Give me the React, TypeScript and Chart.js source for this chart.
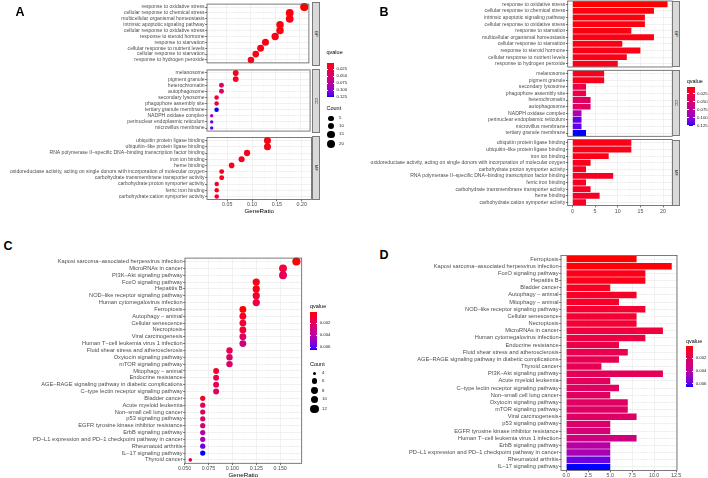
import React, { useEffect, useRef } from "react";
import { Chart, registerables } from "chart.js";

Chart.register(...registerables);

const FONT = '"Liberation Sans", Arial, Helvetica, sans-serif';

// ================= DATA =================
// ---- Panel A: GO dot plot ----
const aBpTerms = [
  "response to oxidative stress",
  "cellular response to chemical stress",
  "multicellular organismal homeostasis",
  "intrinsic apoptotic signaling pathway",
  "cellular response to oxidative stress",
  "response to steroid hormone",
  "response to starvation",
  "cellular response to nutrient levels",
  "cellular response to starvation",
  "response to hydrogen peroxide",
];
const aBpRatio = [0.21, 0.18, 0.18, 0.16, 0.16, 0.15, 0.13, 0.12, 0.11, 0.1];
const aBpCount = [21, 18, 18, 16, 16, 15, 13, 12, 11, 10];
const aBpQ = [0.005, 0.0078, 0.009, 0.008, 0.0083, 0.01, 0.0086, 0.0105, 0.0095, 0.011];

const aCcTerms = [
  "melanosome",
  "pigment granule",
  "heterochromatin",
  "autophagosome",
  "secondary lysosome",
  "phagophore assembly site",
  "tertiary granule membrane",
  "NADPH oxidase complex",
  "perinuclear endoplasmic reticulum",
  "microvillus membrane",
];
const aCcRatio = [0.068, 0.068, 0.039, 0.039, 0.029, 0.029, 0.029, 0.019, 0.019, 0.019];
const aCcCount = [7, 7, 4, 4, 3, 3, 3, 2, 2, 2];
const aCcQ = [0.012, 0.012, 0.044, 0.045, 0.029, 0.03, 0.1255, 0.085, 0.115, 0.115];

const aMfTerms = [
  "ubiquitin protein ligase binding",
  "ubiquitin–like protein ligase binding",
  "RNA polymerase II–specific DNA–binding transcription factor binding",
  "iron ion binding",
  "heme binding",
  "oxidoreductase activity, acting on single donors with incorporation of molecular oxygen",
  "carbohydrate transmembrane transporter activity",
  "carbohydrate:proton symporter activity",
  "ferric iron binding",
  "carbohydrate:cation symporter activity",
];
const aMfRatio = [0.131, 0.131, 0.09, 0.079, 0.059, 0.039, 0.039, 0.029, 0.029, 0.029];
const aMfCount = [13, 13, 9, 8, 6, 4, 4, 3, 3, 3];
const aMfQ = [0.01, 0.0102, 0.0135, 0.011, 0.015, 0.012, 0.0145, 0.013, 0.014, 0.016];

// ---- Panel B: GO bar plot ----
const bBpTerms = [
  "response to oxidative stress",
  "cellular response to chemical stress",
  "intrinsic apoptotic signaling pathway",
  "cellular response to oxidative stress",
  "response to starvation",
  "multicellular organismal homeostasis",
  "cellular response to starvation",
  "response to steroid hormone",
  "cellular response to nutrient levels",
  "response to hydrogen peroxide",
];
const bBpCount = [21, 18, 16, 16, 13, 18, 11, 15, 12, 10];
const bBpQ = [0.005, 0.0078, 0.008, 0.0083, 0.0086, 0.009, 0.0095, 0.01, 0.0105, 0.011];

const bCcTerms = [
  "melanosome",
  "pigment granule",
  "secondary lysosome",
  "phagophore assembly site",
  "heterochromatin",
  "autophagosome",
  "NADPH oxidase complex",
  "perinuclear endoplasmic reticulum",
  "microvillus membrane",
  "tertiary granule membrane",
];
const bCcCount = [7, 7, 3, 3, 4, 4, 2, 2, 2, 3];
const bCcQ = [0.012, 0.012, 0.029, 0.03, 0.044, 0.045, 0.085, 0.115, 0.115, 0.1255];

const bMfTerms = [
  "ubiquitin protein ligase binding",
  "ubiquitin–like protein ligase binding",
  "iron ion binding",
  "oxidoreductase activity, acting on single donors with incorporation of molecular oxygen",
  "carbohydrate:proton symporter activity",
  "RNA polymerase II–specific DNA–binding transcription factor binding",
  "ferric iron binding",
  "carbohydrate transmembrane transporter activity",
  "heme binding",
  "carbohydrate:cation symporter activity",
];
const bMfCount = [13, 13, 8, 4, 3, 9, 3, 4, 6, 3];
const bMfQ = [0.01, 0.0102, 0.011, 0.012, 0.013, 0.0135, 0.014, 0.0145, 0.015, 0.016];

// ---- Panel C: KEGG dot plot ----
const cTerms = [
  "Kaposi sarcoma–associated herpesvirus infection",
  "MicroRNAs in cancer",
  "PI3K–Akt signaling pathway",
  "FoxO signaling pathway",
  "Hepatitis B",
  "NOD–like receptor signaling pathway",
  "Human cytomegalovirus infection",
  "Ferroptosis",
  "Autophagy – animal",
  "Cellular senescence",
  "Necroptosis",
  "Viral carcinogenesis",
  "Human T–cell leukemia virus 1 infection",
  "Fluid shear stress and atherosclerosis",
  "Oxytocin signaling pathway",
  "mTOR signaling pathway",
  "Mitophagy – animal",
  "Endocrine resistance",
  "AGE–RAGE signaling pathway in diabetic complications",
  "C–type lectin receptor signaling pathway",
  "Bladder cancer",
  "Acute myeloid leukemia",
  "Non–small cell lung cancer",
  "p53 signaling pathway",
  "EGFR tyrosine kinase inhibitor resistance",
  "ErbB signaling pathway",
  "PD–L1 expression and PD–1 checkpoint pathway in cancer",
  "Rheumatoid arthritis",
  "IL–17 signaling pathway",
  "Thyroid cancer",
];
const cRatio = [
  0.167, 0.153, 0.153, 0.125, 0.125, 0.125, 0.125, 0.111, 0.111, 0.111, 0.111, 0.111, 0.111, 0.097, 0.097,
  0.097, 0.083, 0.083, 0.083, 0.083, 0.069, 0.069, 0.069, 0.069, 0.069, 0.069, 0.069, 0.069, 0.069, 0.056,
];
const cCount = [12, 11, 11, 9, 9, 9, 9, 8, 8, 8, 8, 8, 8, 7, 7, 7, 6, 6, 6, 6, 5, 5, 5, 5, 5, 5, 5, 5, 5, 4];
const cQ = [
  0.00008, 0.0011, 0.0019, 0.0003, 0.0003, 0.0008, 0.0013, 0.00002, 0.0006, 0.0009, 0.0009, 0.0023, 0.003,
  0.0016, 0.0022, 0.0022, 0.0007, 0.0015, 0.0017, 0.0021, 0.0005, 0.002, 0.0021, 0.0024, 0.0027, 0.004,
  0.0045, 0.0058, 0.0065, 0.0018,
];

// ---- Panel D: KEGG bar plot ----
const dTerms = [
  "Ferroptosis",
  "Kaposi sarcoma–associated herpesvirus infection",
  "FoxO signaling pathway",
  "Hepatitis B",
  "Bladder cancer",
  "Autophagy – animal",
  "Mitophagy – animal",
  "NOD–like receptor signaling pathway",
  "Cellular senescence",
  "Necroptosis",
  "MicroRNAs in cancer",
  "Human cytomegalovirus infection",
  "Endocrine resistance",
  "Fluid shear stress and atherosclerosis",
  "AGE–RAGE signaling pathway in diabetic complications",
  "Thyroid cancer",
  "PI3K–Akt signaling pathway",
  "Acute myeloid leukemia",
  "C–type lectin receptor signaling pathway",
  "Non–small cell lung cancer",
  "Oxytocin signaling pathway",
  "mTOR signaling pathway",
  "Viral carcinogenesis",
  "p53 signaling pathway",
  "EGFR tyrosine kinase inhibitor resistance",
  "Human T–cell leukemia virus 1 infection",
  "ErbB signaling pathway",
  "PD–L1 expression and PD–1 checkpoint pathway in cancer",
  "Rheumatoid arthritis",
  "IL–17 signaling pathway",
];
const dCount = [8, 12, 9, 9, 5, 8, 6, 9, 8, 8, 11, 9, 6, 7, 6, 4, 11, 5, 6, 5, 7, 7, 8, 5, 5, 8, 5, 5, 5, 5];
const dQ = [
  0.00002, 0.00008, 0.0003, 0.0003, 0.0005, 0.0006, 0.0007, 0.0008, 0.0009, 0.0009, 0.0011, 0.0013, 0.0015,
  0.0016, 0.0017, 0.0018, 0.0019, 0.002, 0.0021, 0.0021, 0.0022, 0.0022, 0.0023, 0.0024, 0.0027, 0.003,
  0.004, 0.0045, 0.0058, 0.0065,
];

// ---- tick labels ----
const aTicks = [0.05, 0.1, 0.15, 0.2];
const aTickLabels = ["0.05", "0.10", "0.15", "0.20"];
const aMinor = [0.025, 0.075, 0.125, 0.175];
const bTicks = [0, 5, 10, 15, 20];
const bTickLabels = ["0", "5", "10", "15", "20"];
const bMinor = [2.5, 7.5, 12.5, 17.5];
const cTicks = [0.05, 0.075, 0.1, 0.125, 0.15];
const cTickLabels = ["0.050", "0.075", "0.100", "0.125", "0.150"];
const cMinor = [0.0625, 0.0875, 0.1125, 0.1375, 0.1625];
const dTicks = [0, 2.5, 5, 7.5, 10, 12.5];
const dTickLabels = ["0.0", "2.5", "5.0", "7.5", "10.0", "12.5"];
const dMinor = [1.25, 3.75, 6.25, 8.75, 11.25];
const goLegendTicks = [0.025, 0.05, 0.075, 0.1, 0.125];
const goLegendLabels = ["0.025", "0.050", "0.075", "0.100", "0.125"];
const keggLegendTicks = [0.002, 0.004, 0.006];
const keggLegendLabels = ["0.002", "0.004", "0.006"];
const aCountBreaks = [5, 10, 15, 20];
const cCountBreaks = [4, 6, 8, 10, 12];

// ================= COLOUR (Lab gradient red -> blue, like ggplot) =================
function toLin(c: number) {
  c /= 255;
  return c <= 0.04045 ? c / 12.92 : Math.pow((c + 0.055) / 1.055, 2.4);
}
function fromLin(c: number) {
  const v = c <= 0.0031308 ? 12.92 * c : 1.055 * Math.pow(c, 1 / 2.4) - 0.055;
  return Math.round(Math.max(0, Math.min(1, v)) * 255);
}
function rgbToLab(rgb: number[]) {
  const [r, g, b] = rgb.map(toLin);
  const X = (0.4124 * r + 0.3576 * g + 0.1805 * b) / 0.95047;
  const Y = 0.2126 * r + 0.7152 * g + 0.0722 * b;
  const Z = (0.0193 * r + 0.1192 * g + 0.9505 * b) / 1.08883;
  const f = (t: number) => (t > 0.008856 ? Math.cbrt(t) : 7.787 * t + 16 / 116);
  const fx = f(X), fy = f(Y), fz = f(Z);
  return [116 * fy - 16, 500 * (fx - fy), 200 * (fy - fz)];
}
function labToRgb(lab: number[]) {
  const [L, a, bb] = lab;
  const fy = (L + 16) / 116;
  const fx = fy + a / 500;
  const fz = fy - bb / 200;
  const inv = (f: number) => (f * f * f > 0.008856 ? f * f * f : (f - 16 / 116) / 7.787);
  const X = inv(fx) * 0.95047, Y = inv(fy), Z = inv(fz) * 1.08883;
  const r = 3.2406 * X - 1.5372 * Y - 0.4986 * Z;
  const g = -0.9689 * X + 1.8758 * Y + 0.0415 * Z;
  const b = 0.0557 * X - 0.204 * Y + 1.057 * Z;
  return [fromLin(r), fromLin(g), fromLin(b)];
}
const LAB_LOW = rgbToLab([255, 0, 0]);
const LAB_HIGH = rgbToLab([0, 0, 255]);
function gradColor(t: number) {
  const tt = Math.max(0, Math.min(1, t));
  const lab = LAB_LOW.map((v, i) => v + (LAB_HIGH[i] - v) * tt);
  const [r, g, b] = labToRgb(lab);
  return `rgb(${r},${g},${b})`;
}

const goQAll = [...aBpQ, ...aCcQ, ...aMfQ];
const goQMin = Math.min(...goQAll);
const goQMax = Math.max(...goQAll);
const keggQMin = Math.min(...cQ);
const keggQMax = Math.max(...cQ);
const goCol = (q: number) => gradColor((q - goQMin) / (goQMax - goQMin));
const keggCol = (q: number) => gradColor((q - keggQMin) / (keggQMax - keggQMin));

const aCountAll = [...aBpCount, ...aCcCount, ...aMfCount];
const aCMin = Math.min(...aCountAll);
const aCMax = Math.max(...aCountAll);
const rA = (c: number) => 1.7 + 2.4 * Math.sqrt((c - aCMin) / (aCMax - aCMin));
const cCMin = Math.min(...cCount);
const cCMax = Math.max(...cCount);
const rC = (c: number) => 1.8 + 2.3 * Math.sqrt((c - cCMin) / (cCMax - cCMin));

function expand(lo: number, hi: number) {
  const r = hi - lo;
  return [lo - 0.05 * r, hi + 0.05 * r];
}
const aAllRatio = [...aBpRatio, ...aCcRatio, ...aMfRatio];
const [aXMin, aXMax] = expand(Math.min(...aAllRatio), Math.max(...aAllRatio));
const [bXMin, bXMax] = expand(0, Math.max(...bBpCount, ...bCcCount, ...bMfCount));
const [cXMin, cXMax] = expand(Math.min(...cRatio), Math.max(...cRatio));
const [dXMin, dXMax] = expand(0, Math.max(...dCount));

// ================= FACET CHARTS =================
type Facet = {
  kind: "dot" | "bar";
  labels: string[];
  values: number[];
  colors: string[];
  radii?: number[];
  canvasLeft: number;
  plotLeft: number;
  plotRight: number;
  top: number;
  bottom: number;
  axisBelow: number;
  xMin: number;
  xMax: number;
  major: number[];
  majorLabels: string[];
  minor: number[];
  labelSize: number;
  tickSize: number;
};

const GRID = "#EBEBEB";
const GRID_MINOR = "#F5F5F5";

const A_L = 207, A_R = 311.5;
const B_L = 567.7, B_R = 672.3;

const FACETS: Facet[] = [
  // Panel A
  {
    kind: "dot", labels: aBpTerms, values: aBpRatio, colors: aBpQ.map(goCol), radii: aBpCount.map(rA),
    canvasLeft: 0, plotLeft: A_L, plotRight: A_R, top: 1.5, bottom: 65.5, axisBelow: 0,
    xMin: aXMin, xMax: aXMax, major: aTicks, majorLabels: aTickLabels, minor: aMinor, labelSize: 5.1, tickSize: 5.3,
  },
  {
    kind: "dot", labels: aCcTerms, values: aCcRatio, colors: aCcQ.map(goCol), radii: aCcCount.map(rA),
    canvasLeft: 0, plotLeft: A_L, plotRight: A_R, top: 68.5, bottom: 132.5, axisBelow: 0,
    xMin: aXMin, xMax: aXMax, major: aTicks, majorLabels: aTickLabels, minor: aMinor, labelSize: 5.1, tickSize: 5.3,
  },
  {
    kind: "dot", labels: aMfTerms, values: aMfRatio, colors: aMfQ.map(goCol), radii: aMfCount.map(rA),
    canvasLeft: 0, plotLeft: A_L, plotRight: A_R, top: 135.5, bottom: 199.5, axisBelow: 8,
    xMin: aXMin, xMax: aXMax, major: aTicks, majorLabels: aTickLabels, minor: aMinor, labelSize: 5.1, tickSize: 5.3,
  },
  // Panel B
  {
    kind: "bar", labels: bBpTerms, values: bBpCount, colors: bBpQ.map(goCol),
    canvasLeft: 355, plotLeft: B_L, plotRight: B_R, top: 1, bottom: 67, axisBelow: 0,
    xMin: bXMin, xMax: bXMax, major: bTicks, majorLabels: bTickLabels, minor: bMinor, labelSize: 5.1, tickSize: 5.3,
  },
  {
    kind: "bar", labels: bCcTerms, values: bCcCount, colors: bCcQ.map(goCol),
    canvasLeft: 355, plotLeft: B_L, plotRight: B_R, top: 70.3, bottom: 136.3, axisBelow: 0,
    xMin: bXMin, xMax: bXMax, major: bTicks, majorLabels: bTickLabels, minor: bMinor, labelSize: 5.1, tickSize: 5.3,
  },
  {
    kind: "bar", labels: bMfTerms, values: bMfCount, colors: bMfQ.map(goCol),
    canvasLeft: 355, plotLeft: B_L, plotRight: B_R, top: 139.6, bottom: 205.6, axisBelow: 9,
    xMin: bXMin, xMax: bXMax, major: bTicks, majorLabels: bTickLabels, minor: bMinor, labelSize: 5.1, tickSize: 5.3,
  },
  // Panel C
  {
    kind: "dot", labels: cTerms, values: cRatio, colors: cQ.map(keggCol), radii: cCount.map(rC),
    canvasLeft: 0, plotLeft: 185, plotRight: 301.7, top: 255, bottom: 463.3, axisBelow: 9,
    xMin: cXMin, xMax: cXMax, major: cTicks, majorLabels: cTickLabels, minor: cMinor, labelSize: 5.7, tickSize: 5.3,
  },
  // Panel D
  {
    kind: "bar", labels: dTerms, values: dCount, colors: dQ.map(keggCol),
    canvasLeft: 400, plotLeft: 561, plotRight: 677, top: 255.5, bottom: 470.5, axisBelow: 7.5,
    xMin: dXMin, xMax: dXMax, major: dTicks, majorLabels: dTickLabels, minor: dMinor, labelSize: 5.7, tickSize: 5.3,
  },
];

const boxPlugin = {
  id: "panelBox",
  afterDraw(chart: any) {
    const { ctx, chartArea } = chart;
    ctx.save();
    ctx.strokeStyle = "#5a5a5a";
    ctx.lineWidth = 0.8;
    ctx.strokeRect(chartArea.left, chartArea.top, chartArea.right - chartArea.left, chartArea.bottom - chartArea.top);
    ctx.restore();
  },
};

function makeFacet(canvas: HTMLCanvasElement, f: Facet): Chart {
  const showX = f.axisBelow > 0;
  const extraRight = showX ? 7 : 1;
  const cl = Math.floor(f.canvasLeft);
  const ct = Math.floor(f.top) - 1;
  const cw = Math.ceil(f.plotRight) + extraRight - cl;
  const ch = Math.ceil(f.bottom + f.axisBelow) + 1 - ct;
  canvas.width = cw;
  canvas.height = ch;
  canvas.style.position = "absolute";
  canvas.style.left = cl + "px";
  canvas.style.top = ct + "px";
  canvas.style.width = cw + "px";
  canvas.style.height = ch + "px";
  const padTop = f.top - ct;
  const padRight = cw - (f.plotRight - cl);
  const yW = f.plotLeft - cl;
  const xH = ch - (f.bottom - ct);
  const majorIdx = (v: number) => f.major.findIndex((m) => Math.abs(m - v) < 1e-9);
  const isMajor = (c: any) => (c && c.tick ? majorIdx(c.tick.value) >= 0 : true);
  const allTicks = [...f.major, ...f.minor].sort((a, b) => a - b);

  const dataset: any =
    f.kind === "dot"
      ? {
          data: f.labels.map((l, i) => ({ x: f.values[i], y: l })),
          pointRadius: f.radii,
          pointHoverRadius: f.radii,
          pointBackgroundColor: f.colors,
          pointBorderWidth: 0,
          pointBorderColor: "rgba(0,0,0,0)",
          clip: false,
        }
      : {
          data: f.values,
          backgroundColor: f.colors,
          borderWidth: 0,
          barPercentage: 0.9,
          categoryPercentage: 1,
        };

  const config: any = {
    type: f.kind === "dot" ? "scatter" : "bar",
    data: f.kind === "dot" ? { datasets: [dataset] } : { labels: f.labels, datasets: [dataset] },
    options: {
      indexAxis: f.kind === "bar" ? "y" : "x",
      animation: false,
      responsive: false,
      devicePixelRatio: 1,
      events: [],
      layout: { padding: { top: padTop, right: padRight, left: 0, bottom: 0 } },
      plugins: { legend: { display: false }, tooltip: { enabled: false }, title: { display: false } },
      scales: {
        x: {
          type: "linear",
          min: f.xMin,
          max: f.xMax,
          bounds: "data",
          afterBuildTicks: (scale: any) => {
            scale.ticks = allTicks.map((v) => ({ value: v }));
          },
          afterFit: (scale: any) => {
            scale.height = xH;
            scale.paddingLeft = 0;
            scale.paddingRight = 0;
          },
          ticks: {
            display: showX,
            autoSkip: false,
            maxRotation: 0,
            minRotation: 0,
            padding: 0.5,
            color: "#4D4D4D",
            font: { family: FONT, size: f.tickSize },
            callback: (v: any) => {
              const i = majorIdx(Number(v));
              return i >= 0 ? f.majorLabels[i] : "";
            },
          },
          grid: {
            color: (c: any) => (isMajor(c) ? GRID : GRID_MINOR),
            lineWidth: (c: any) => (isMajor(c) ? 0.7 : 0.4),
            drawTicks: showX,
            tickLength: 1.8,
            tickWidth: 0.7,
            tickColor: (c: any) => (isMajor(c) ? "#333333" : "rgba(0,0,0,0)"),
          },
          border: { display: false },
        },
        y: {
          type: "category",
          labels: f.labels,
          offset: true,
          afterFit: (scale: any) => {
            scale.width = yW;
            scale.paddingTop = 0;
            scale.paddingBottom = 0;
          },
          ticks: {
            autoSkip: false,
            padding: 0.6,
            color: "#4D4D4D",
            font: { family: FONT, size: f.labelSize },
          },
          grid: {
            color: GRID,
            lineWidth: 0.7,
            offset: false,
            drawTicks: true,
            tickLength: 1.8,
            tickWidth: 0.7,
            tickColor: "#333333",
          },
          border: { display: false },
        },
      },
    },
    plugins: [boxPlugin],
  };
  return new Chart(canvas, config);
}

// ================= HTML OVERLAYS (titles, strips, legends) =================
function Txt(props: {
  x: number; y: number; size: number; children: any; anchor?: "left" | "center" | "right"; color?: string; bold?: boolean;
}) {
  const { x, y, size, children, anchor = "left", color = "#000", bold = false } = props;
  const tx = anchor === "left" ? "0" : anchor === "center" ? "-50%" : "-100%";
  return (
    <div
      style={{
        position: "absolute", left: x, top: y, transform: `translate(${tx},-50%)`, fontSize: size, lineHeight: 1,
        color, fontWeight: bold ? "bold" : "normal", whiteSpace: "nowrap",
      }}
    >
      {children}
    </div>
  );
}

function Strip(props: { x: number; y: number; w: number; h: number; text: string }) {
  const { x, y, w, h, text } = props;
  return (
    <div
      style={{
        position: "absolute", left: x, top: y, width: w, height: h, background: "#D9D9D9", boxSizing: "border-box",
        border: "1px solid #7a7a7a",
      }}
    >
      <div
        style={{
          position: "absolute", left: "50%", top: "50%", transform: "translate(-50%,-50%) rotate(90deg)", fontSize: 4,
          lineHeight: 1, color: "#1A1A1A", whiteSpace: "nowrap",
        }}
      >
        {text}
      </div>
    </div>
  );
}

function ColorBar(props: {
  x: number; y: number; w: number; h: number; qMin: number; qMax: number; ticks: number[]; labels: string[]; size: number;
}) {
  const { x, y, w, h, qMin, qMax, ticks, labels, size } = props;
  const stops = Array.from({ length: 21 }, (_, i) => `${gradColor(i / 20)} ${i * 5}%`).join(",");
  return (
    <>
      <div style={{ position: "absolute", left: x, top: y, width: w, height: h, background: `linear-gradient(to bottom, ${stops})` }} />
      {ticks.map((q, i) => {
        const ty = y + ((q - qMin) / (qMax - qMin)) * h;
        return (
          <React.Fragment key={i}>
            <div style={{ position: "absolute", left: x, top: ty - 0.4, width: w / 5, height: 0.8, background: "#fff" }} />
            <div style={{ position: "absolute", left: x + w - w / 5, top: ty - 0.4, width: w / 5, height: 0.8, background: "#fff" }} />
            <Txt x={x + w + 2.4} y={ty} size={size} color="#222">
              {labels[i]}
            </Txt>
          </React.Fragment>
        );
      })}
    </>
  );
}

function SizeLegend(props: { x: number; ys: number[]; counts: number[]; r: (c: number) => number; labelX: number; size: number }) {
  const { x, ys, counts, r, labelX, size } = props;
  return (
    <>
      {counts.map((c, i) => {
        const rr = r(c);
        return (
          <React.Fragment key={i}>
            <div
              style={{
                position: "absolute", left: x - rr, top: ys[i] - rr, width: 2 * rr, height: 2 * rr, borderRadius: "50%",
                background: "#000",
              }}
            />
            <Txt x={labelX} y={ys[i]} size={size} color="#222">
              {String(c)}
            </Txt>
          </React.Fragment>
        );
      })}
    </>
  );
}

export default function App() {
  const refs = useRef<(HTMLCanvasElement | null)[]>([]);
  useEffect(() => {
    const charts = FACETS.map((f, i) => makeFacet(refs.current[i] as HTMLCanvasElement, f));
    return () => charts.forEach((c) => c.destroy());
  }, []);

  return (
    <div
      style={{
        position: "absolute", left: 0, top: 0, width: 708, height: 478, background: "#fff", overflow: "hidden",
        fontFamily: FONT,
      }}
    >
      {FACETS.map((_, i) => (
        <canvas key={i} ref={(el) => { refs.current[i] = el; }} style={{ position: "absolute" }} />
      ))}

      {/* panel letters */}
      <Txt x={20} y={11.5} size={12.5} bold anchor="center">A</Txt>
      <Txt x={384} y={11.5} size={12.5} bold anchor="center">B</Txt>
      <Txt x={8} y={246} size={12.5} bold anchor="center">C</Txt>
      <Txt x={384} y={254.5} size={12.5} bold anchor="center">D</Txt>

      {/* axis titles */}
      <Txt x={(A_L + A_R) / 2} y={210.7} size={6.2} anchor="center">GeneRatio</Txt>
      <Txt x={(185 + 301.7) / 2} y={475} size={6.2} anchor="center">GeneRatio</Txt>

      {/* facet strips */}
      <Strip x={A_R} y={1.5} w={8} h={64} text="BP" />
      <Strip x={A_R} y={68.5} w={8} h={64} text="CC" />
      <Strip x={A_R} y={135.5} w={8} h={64} text="MF" />
      <Strip x={B_R} y={1} w={7.5} h={66} text="BP" />
      <Strip x={B_R} y={70.3} w={7.5} h={66} text="CC" />
      <Strip x={B_R} y={139.6} w={7.5} h={66} text="MF" />

      {/* legends A */}
      <Txt x={326.5} y={53.3} size={5.5}>qvalue</Txt>
      <ColorBar x={326.7} y={63.3} w={7.3} h={34} qMin={goQMin} qMax={goQMax} ticks={goLegendTicks} labels={goLegendLabels} size={4.3} />
      <Txt x={326.5} y={109} size={5.5}>Count</Txt>
      <SizeLegend x={331} ys={[118.3, 126, 134.3, 144.3]} counts={aCountBreaks} r={rA} labelX={339} size={4.3} />

      {/* legend B */}
      <Txt x={686.7} y={81.7} size={5.5}>qvalue</Txt>
      <ColorBar x={687.3} y={87.3} w={7.3} h={38.7} qMin={goQMin} qMax={goQMax} ticks={goLegendTicks} labels={goLegendLabels} size={4.3} />

      {/* legends C */}
      <Txt x={310} y={306.7} size={5.5}>qvalue</Txt>
      <ColorBar x={310} y={311.7} w={7.3} h={38.3} qMin={keggQMin} qMax={keggQMax} ticks={keggLegendTicks} labels={keggLegendLabels} size={4.3} />
      <Txt x={310} y={365} size={5.5}>Count</Txt>
      <SizeLegend x={314.5} ys={[373.3, 381.3, 390.7, 399.3, 409.3]} counts={cCountBreaks} r={rC} labelX={322} size={4.3} />

      {/* legend D */}
      <Txt x={686} y={341.7} size={5.5}>qvalue</Txt>
      <ColorBar x={686} y={346} w={7.3} h={40.7} qMin={keggQMin} qMax={keggQMax} ticks={keggLegendTicks} labels={keggLegendLabels} size={4.3} />
    </div>
  );
}
